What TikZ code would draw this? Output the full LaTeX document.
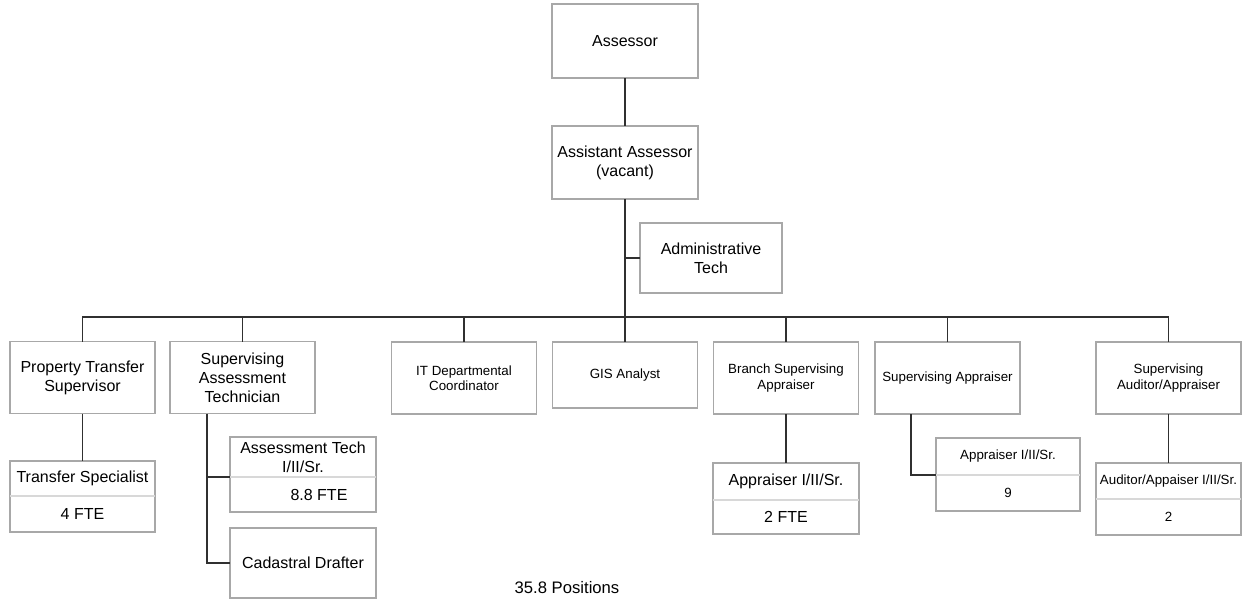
\documentclass[tikz,border=0pt]{standalone}
\usepackage{fontspec}
\setmainfont{Liberation Sans}
\usetikzlibrary{positioning}

\definecolor{boxgray}{HTML}{A8A8A8}
\definecolor{splitgray}{HTML}{D8D8D8}
\definecolor{linegray}{HTML}{303030}
\newcommand{\rolebig}{\fontsize{12}{14.2}\selectfont}
\newcommand{\rolesmall}{\fontsize{10}{11.4}\selectfont}

\begin{document}
\begin{tikzpicture}[x=0.75pt,y=-0.75pt,
 role/.style = {draw=boxgray, line width=1pt, fill=white, align=center, inner sep=1pt,
  outer sep=0pt, minimum width=108.75pt, minimum height=54pt, font=\rolebig},
 small/.style = {font=\rolesmall},
 link/.style = {draw=linegray, line width=0.8pt},
 split/.style = {draw=splitgray, line width=1pt},
]
\useasboundingbox (0,0) rectangle (1243,603);

% top of the chart
\node (assessor)[role, minimum width=109.5pt, minimum height=55.5pt] at (625,41)    {Assessor};
\node (asst)    [role, minimum width=109.5pt, minimum height=54.75pt] at (625,162.5) {Assistant Assessor\\(vacant)};
\node (admin)   [role, minimum width=106.5pt, minimum height=52.5pt] at (711,258)   {Administrative\\Tech};

% second row
\node (pts)  [role] at (82.5,377.5)  {Property Transfer\\Supervisor};
\node (sat)  [role] at (242.5,377.5) {Supervising\\Assessment\\Technician};
\node (itc)  [role, small] at (464,378)    {IT Departmental\\Coordinator};
\node (gis)  [role, small, minimum height=49.5pt] at (625,375) {GIS Analyst};
\node (bsa)  [role, small] at (786,378)    {Branch Supervising\\Appraiser};
\node (sapp) [role, small] at (947.5,378)  {Supervising Appraiser};
\node (saa)  [role, small] at (1168.5,378) {Supervising\\Auditor/Appraiser};

% staff boxes
\node (ts)   [role, minimum height=26.25pt] at (82.5,478.5) {Transfer Specialist};
\node (tsn)  [role, minimum height=27pt, below=0pt of ts] {4 FTE};
\node (at)   [role, minimum width=109.5pt, minimum height=30pt] at (303,457) {Assessment Tech\\I/II/Sr.};
\node (atn)  [role, minimum width=109.5pt, minimum height=26.25pt, below=0pt of at] {\hspace*{2em}8.8 FTE};
\node (cad)  [role, minimum width=109.5pt, minimum height=52.5pt] at (303,563) {Cadastral Drafter};
\node (ap2)  [role, minimum width=109.5pt, minimum height=27.75pt] at (786,481.5) {Appraiser I/II/Sr.};
\node (ap2n) [role, minimum width=109.5pt, minimum height=25.5pt, below=0pt of ap2] {2 FTE};
\node (ap9)  [role, small, minimum width=108pt, minimum height=27.75pt] at (1008,456.5) {Appraiser I/II/Sr.};
\node (ap9n) [role, small, minimum width=108pt, minimum height=27pt, below=0pt of ap9] {9};
\node (aud)  [role, small, minimum height=27pt] at (1168.5,481) {Auditor/Appaiser I/II/Sr.};
\node (audn) [role, small, minimum height=27pt, below=0pt of aud] {2};

\foreach \n in {ts,at,ap2,ap9,aud}
  \draw[split] (\n.south west) -- (\n.south east);

% connectors
\coordinate (bus) at (625,317);
\coordinate (satd) at ([xshift=27.75pt]sat.south west);
\coordinate (sappd) at ([xshift=27pt]sapp.south west);

\draw[link] (assessor) -- (asst)
            (asst) -- (bus)
            (admin.west) -- (admin.west -| asst.south)
            (pts.north) |- (bus) -| (saa.north);
\foreach \n in {sat,itc,gis,bsa,sapp}
  \draw[link] (\n.north) -- (\n.north |- bus);

\draw[link] (pts) -- (ts)
            (bsa) -- (ap2)
            (saa) -- (aud)
            (satd) |- (at.south west)
            (satd) |- (cad.west)
            (sappd) |- (ap9.south west);

\node (total) [font=\fontsize{12.5}{15}\selectfont] at (567,588) {35.8 Positions};
\end{tikzpicture}
\end{document}
